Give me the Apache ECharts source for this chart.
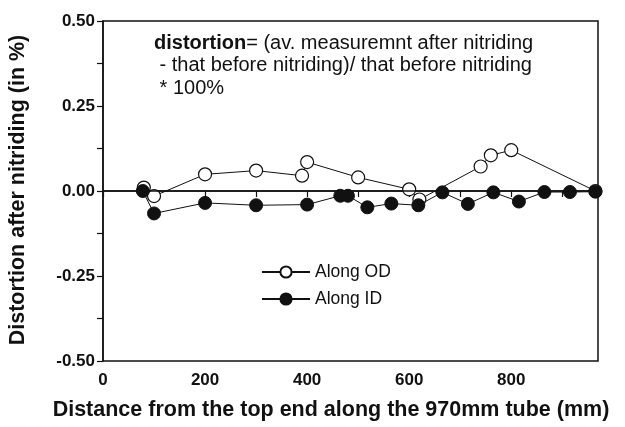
<!DOCTYPE html>
<html>
<head>
<meta charset="utf-8">
<script src="https://cdn.jsdelivr.net/npm/echarts@6/dist/echarts.min.js"></script>
<style>
  html, body { margin: 0; padding: 0; background: #fff; }
  #chart { width: 625px; height: 427px; }
</style>
</head>
<body>
<div id="chart"></div>
<script>
// values
const odX = [80, 100, 200, 300, 390, 400, 500, 600, 620, 740, 760, 800, 965];
const odY = [0.01, -0.015, 0.049, 0.06, 0.045, 0.085, 0.04, 0.005, -0.025, 0.072, 0.105, 0.12, 0];
const idX = [78, 100, 200, 300, 400, 465, 480, 518, 565, 618, 665, 715, 765, 815, 865, 915, 965];
const idY = [0, -0.066, -0.035, -0.042, -0.04, -0.014, -0.014, -0.048, -0.037, -0.042, -0.004, -0.038, -0.004, -0.031, -0.003, -0.003, -0.002];

const yTicks = [-0.5, -0.25, 0, 0.25, 0.5];
const xTicks = [0, 200, 400, 600, 800];

const font = 'Liberation Sans, Arial, sans-serif';

function pairs(xs, ys) {
    return xs.map((x, i) => [x, ys[i]]);
}

const chart = echarts.init(document.getElementById('chart'), null, { renderer: 'canvas' });

chart.setOption({
    animation: false,
    backgroundColor: '#fff',
    grid: {
        left: 103, right: 27, top: 21, bottom: 66,
        show: true, borderColor: '#111', borderWidth: 1.5
    },
    xAxis: {
        type: 'value',
        min: 0, max: 970, interval: 200,
        axisLine: { show: true, lineStyle: { color: '#111', width: 1.5 } },
        axisTick: { show: true, length: 6, lineStyle: { color: '#111', width: 1.2 } },
        minorTick: { show: true, splitNumber: 2, length: 6, lineStyle: { color: '#111', width: 1.2 } },
        splitLine: { show: false },
        axisLabel: {
            color: '#111', fontFamily: font, fontWeight: 'bold', fontSize: 17, margin: 11,
            showMaxLabel: false,
            formatter: v => (xTicks.includes(v) ? String(v) : '')
        }
    },
    yAxis: {
        type: 'value',
        min: -0.5, max: 0.5, interval: 0.25,
        axisLine: { show: true, lineStyle: { color: '#111', width: 1.5 } },
        axisTick: { show: true, length: 6, lineStyle: { color: '#111', width: 1.2 } },
        minorTick: { show: true, splitNumber: 2, length: 6, lineStyle: { color: '#111', width: 1.2 } },
        splitLine: { show: false },
        axisLabel: {
            color: '#111', fontFamily: font, fontWeight: 'bold', fontSize: 17, margin: 8,
            formatter: v => (yTicks.includes(v) ? v.toFixed(2) : '')
        }
    },
    legend: {
        orient: 'vertical',
        left: 256, top: 258,
        itemWidth: 48, itemHeight: 14, itemGap: 9,
        textStyle: { color: '#111', fontFamily: font, fontSize: 17.5 },
        data: ['Along OD', 'Along ID']
    },
    series: [
        {
            name: 'Along OD',
            type: 'line',
            data: pairs(odX, odY),
            symbol: 'circle',
            symbolSize: 13,
            itemStyle: { color: '#fff', borderColor: '#111', borderWidth: 1.2 },
            lineStyle: { color: '#111', width: 1 },
            markLine: {
                silent: true,
                symbol: 'none',
                label: { show: false },
                lineStyle: { color: '#111', width: 1.5, type: 'solid' },
                data: [{ yAxis: 0 }]
            },
            z: 2
        },
        {
            name: 'Along ID',
            type: 'line',
            data: pairs(idX, idY),
            symbol: 'circle',
            symbolSize: 13,
            itemStyle: { color: '#111', borderColor: '#111', borderWidth: 1 },
            lineStyle: { color: '#111', width: 1 },
            z: 3
        }
    ],
    graphic: [
        {
            type: 'text',
            left: 154, top: 32,
            style: {
                text: '{b|distortion}= (av. measuremnt after nitriding\n - that before nitriding)/ that before nitriding\n * 100%',
                fontFamily: font, fontSize: 20, fill: '#111', lineHeight: 22.5,
                rich: { b: { fontWeight: 'bold', fontSize: 20, fontFamily: font, fill: '#111', lineHeight: 22.5 } }
            }
        },
        {
            type: 'text',
            x: 331, y: 410,
            style: {
                text: 'Distance from the top end along the 970mm tube (mm)',
                fontFamily: font, fontSize: 21.5, fontWeight: 'bold', fill: '#111',
                align: 'center', verticalAlign: 'middle'
            }
        },
        {
            type: 'text',
            x: 18, y: 190,
            rotation: Math.PI / 2,
            style: {
                text: 'Distortion after nitriding (in %)',
                fontFamily: font, fontSize: 21.5, fontWeight: 'bold', fill: '#111',
                align: 'center', verticalAlign: 'middle'
            }
        }
    ]
});
</script>
</body>
</html>
